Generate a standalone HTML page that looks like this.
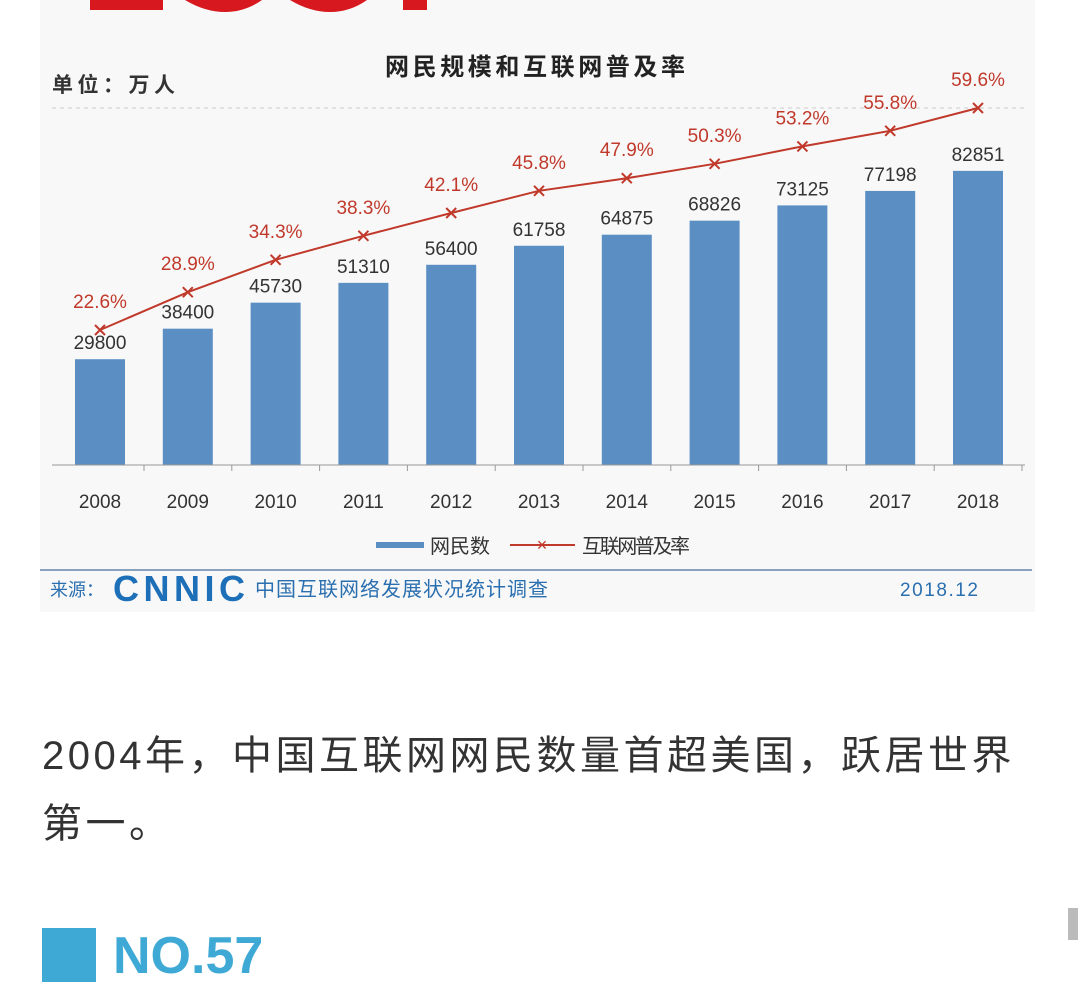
<!DOCTYPE html>
<html><head><meta charset="utf-8"><style>
body{margin:0;width:1080px;height:1000px;background:#fff;overflow:hidden;font-family:"Liberation Sans","Noto Sans CJK SC",sans-serif;position:relative}
.abs{position:absolute}
</style></head><body>
<div class="abs" style="left:40px;top:0;width:995px;height:612px;background:#f8f8f8"></div>
<svg class="abs" style="left:0;top:0" width="1080" height="620">
<g fill="#d7181f">
<rect x="90" y="0" width="73" height="10"/><path d="M185 0 Q205 12 225 12 Q245 12 262 0Z"/><path d="M290 0 Q310 12 330 12 Q350 12 367 0Z"/><rect x="403" y="0" width="24" height="10"/>
</g>
<text x="385" y="75" font-size="24" font-weight="bold" fill="#222" textLength="300">网民规模和互联网普及率</text>
<text x="52" y="92" font-size="21" font-weight="bold" fill="#333" textLength="123">单位：万人</text>
<line x1="52" y1="108" x2="1025" y2="108" stroke="#ccc" stroke-dasharray="4,4"/>
<g id="bars"></g><g id="line"></g>
<line x1="52" y1="465" x2="1025" y2="465" stroke="#999"/>
<g id="xt"></g>
<line x1="376" y1="545" x2="424" y2="545" stroke="#5b8fc4" stroke-width="6"/>
<text x="430" y="553" font-size="20" fill="#333" textLength="60">网民数</text>
<line x1="510" y1="545" x2="575" y2="545" stroke="#c0392b" stroke-width="2"/>
<text x="542" y="551" font-size="18" text-anchor="middle" fill="#c0392b">×</text>
<text x="582" y="553" font-size="20" fill="#333" textLength="108">互联网普及率</text>
<line x1="40" y1="570" x2="1032" y2="570" stroke="#8aa3bd" stroke-width="2"/>
<text x="50" y="596" font-size="18" fill="#2a6fb0">来源：</text>
<text x="113" y="601" font-size="36" font-weight="bold" fill="#1d6fb8" textLength="132">CNNIC</text>
<text x="255" y="596" font-size="20" fill="#2a6fb0" textLength="293">中国互联网络发展状况统计调查</text>
<text x="900" y="596" font-size="19" fill="#2a6fb0" textLength="78">2018.12</text>
</svg>
<div class="abs" style="left:42px;top:722px;font-size:40px;letter-spacing:3.5px;color:#333;line-height:68px;white-space:nowrap">2004年，中国互联网网民数量首超美国，跃居世界<br>第一。</div>
<div class="abs" style="left:42px;top:928px;width:54px;height:54px;background:#3fa9d6"></div>
<div class="abs" style="left:113px;top:926px;font-size:52px;font-weight:bold;color:#3fa9d6;line-height:60px">NO.57</div>
<div class="abs" style="left:1068px;top:908px;width:10px;height:32px;background:#bbb"></div>
<script>
const years=["2008","2009","2010","2011","2012","2013","2014","2015","2016","2017","2018"];
const users=[29800,38400,45730,51310,56400,61758,64875,68826,73125,77198,82851];
const rates=[22.6,28.9,34.3,38.3,42.1,45.8,47.9,50.3,53.2,55.8,59.6];
const NS="http://www.w3.org/2000/svg";
const xs=i=>100+i*87.8, yb=v=>465-v*0.00355, yr=v=>465.6-v*6;
function mk(t,a,p){const e=document.createElementNS(NS,t);for(const k in a)e.setAttribute(k,a[k]);p.appendChild(e);return e;}
const B=document.getElementById('bars'),L=document.getElementById('line'),X=document.getElementById('xt');
let pts=[];
years.forEach((y,i)=>{
 const x=xs(i),t=yb(users[i]);
 const r=mk('rect',{x:x-25,y:t,width:50,height:465-t,fill:'#5b8fc4'},B);
 
 
 const tl=mk('text',{x:x,y:t-10,'text-anchor':'middle','font-size':19,fill:'#333'},B);tl.textContent=users[i];
 
 
 const xl=mk('text',{x:x,y:508,'text-anchor':'middle','font-size':19,fill:'#333'},X);xl.textContent=y;
 
 
 mk('line',{x1:x+44,y1:465,x2:x+44,y2:471,stroke:'#999'},X);
 pts.push(x+','+yr(rates[i]));
});
const pl=mk('polyline',{points:pts.join(' '),fill:'none',stroke:'#c0392b','stroke-width':2},L);


rates.forEach((v,i)=>{
 const x=xs(i),y=yr(v);
 const m=mk('path',{d:`M${x-5} ${y-5}L${x+5} ${y+5}M${x+5} ${y-5}L${x-5} ${y+5}`,stroke:'#c0392b','stroke-width':2},L);
 
 
 const t=mk('text',{x:x,y:y-22,'text-anchor':'middle','font-size':19,fill:'#c0392b'},L);t.textContent=v.toFixed(1)+'%';
 
 
});
</script>
</body></html>
